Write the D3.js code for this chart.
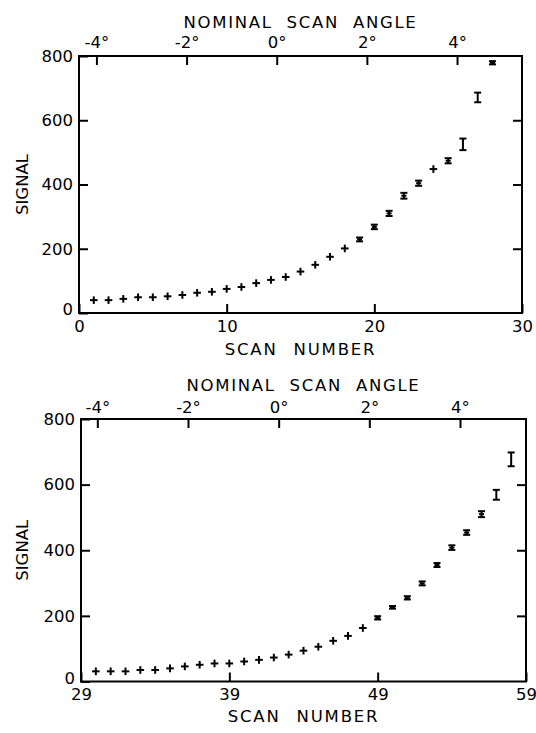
<!DOCTYPE html>
<html>
<head>
<meta charset="utf-8">
<script src="https://cdn.jsdelivr.net/npm/d3@7"></script>
<style>
  body { margin: 0; background: #fff; }
  svg text { font-family: "DejaVu Sans", sans-serif; fill: #000; }
</style>
</head>
<body>
<div id="chart"></div>
<script>
// tick values shared by both panels
const signalTicks = [0, 200, 400, 600, 800];
const angleTicks = [-4, -2, 0, 2, 4];

// upper panel: scans 1-28
const topScanTicks = [0, 10, 20, 30];
const topScans = [1, 2, 3, 4, 5, 6, 7, 8, 9, 10, 11, 12, 13, 14, 15, 16, 17, 18, 19, 20, 21, 22, 23, 24, 25, 26, 27, 28];
const topSignal = [40, 40, 44, 49, 49, 52, 56, 63, 66, 75, 81, 93, 103, 112, 129, 150, 175, 201, 229, 268, 310, 365, 404, 448, 474, 525, 671, 779];
const topErr = [0, 0, 0, 0, 0, 0, 0, 0, 0, 0, 0, 0, 0, 0, 0, 0, 0, 0, 6, 7, 8, 9, 8, 0, 8, 18, 15, 5];
// scan number where -4 deg and +4 deg fall
const topAngleScan = [1.18, 25.6];

// lower panel: scans 30-58
const bottomScanTicks = [29, 39, 49, 59];
const bottomScans = [30, 31, 32, 33, 34, 35, 36, 37, 38, 39, 40, 41, 42, 43, 44, 45, 46, 47, 48, 49, 50, 51, 52, 53, 54, 55, 56, 57, 58];
const bottomSignal = [31, 31, 31, 35, 35, 40, 46, 51, 55, 55, 61, 66, 73, 82, 94, 106, 124, 139, 163, 194, 226, 255, 299, 355, 408, 454, 510, 569, 677];
const bottomErr = [0, 0, 0, 0, 0, 0, 0, 0, 0, 0, 0, 0, 0, 0, 0, 0, 0, 0, 0, 5, 4, 5, 6, 6, 7, 7, 9, 15, 21];
const bottomAngleScan = [30.1, 54.55];

const svg = d3.select("#chart")
    .append("svg")
    .attr("width", 536)
    .attr("height", 733);

const FONT = 16.5;

function styleAxis(g) {
    g.attr("font-size", FONT).attr("font-family", "DejaVu Sans, sans-serif");
    g.select(".domain").remove();
    g.selectAll(".tick line").attr("stroke-width", 2);
}

function drawPanel(p) {
    const x = d3.scaleLinear().domain(p.scanDomain).range([p.left, p.right]);
    const y = d3.scaleLinear().domain([0, 800]).range([p.bottom, p.top]);
    const angle = d3.scaleLinear().domain([-4, 4]).range(p.angleScan.map(x));
    const g = svg.append("g");

    g.append("g")
        .attr("transform", `translate(${p.left},0)`)
        .call(d3.axisLeft(y).tickValues(signalTicks).tickSize(-9).tickSizeOuter(0).tickPadding(6))
        .call(styleAxis)
        .call(a => a.selectAll(".tick text").filter(d => d === 0).attr("dy", "0.1em"));

    g.append("g")
        .attr("transform", `translate(${p.right},0)`)
        .call(d3.axisRight(y).tickValues([200, 400, 600]).tickSize(-9).tickSizeOuter(0).tickFormat(""))
        .call(styleAxis);

    g.append("g")
        .attr("transform", `translate(0,${p.bottom})`)
        .call(d3.axisBottom(x).tickValues(p.scanTicks).tickSize(-9).tickSizeOuter(0).tickPadding(7))
        .call(styleAxis);

    g.append("g")
        .attr("transform", `translate(0,${p.top})`)
        .call(d3.axisTop(angle).tickValues(angleTicks).tickSize(-9).tickSizeOuter(0)
            .tickPadding(p.anglePad).tickFormat(d => d + "°"))
        .call(styleAxis);

    g.append("rect")
        .attr("x", p.left)
        .attr("y", p.top)
        .attr("width", p.right - p.left)
        .attr("height", p.bottom - p.top)
        .attr("fill", "none")
        .attr("stroke", "#000")
        .attr("stroke-width", 2);

    // points: plus marks, or error bars with caps where the error is visible
    const pts = p.scans.map((s, i) => ({ scan: s, v: p.signal[i], e: p.err[i] }));
    const mark = g.selectAll("g.pt")
        .data(pts)
        .enter()
        .append("g")
        .attr("class", "pt")
        .attr("stroke", "#000")
        .attr("stroke-width", 2);

    mark.each(function (d) {
        const m = d3.select(this);
        const cx = x(d.scan);
        if (!d.e) {
            m.append("line").attr("x1", cx - 3.8).attr("x2", cx + 3.8).attr("y1", y(d.v)).attr("y2", y(d.v));
            m.append("line").attr("x1", cx).attr("x2", cx).attr("y1", y(d.v) - 3.8).attr("y2", y(d.v) + 3.8);
            return;
        }
        const y0 = y(d.v - d.e), y1 = y(d.v + d.e);
        m.append("line").attr("x1", cx).attr("x2", cx).attr("y1", y0).attr("y2", y1);
        [y0, y1].forEach(yy => {
            m.append("line").attr("x1", cx - 3.5).attr("x2", cx + 3.5).attr("y1", yy).attr("y2", yy);
        });
        if (y0 - y1 < 8) {
            m.append("line").attr("x1", cx - 2.5).attr("x2", cx + 2.5).attr("y1", y(d.v)).attr("y2", y(d.v));
        }
    });

    const midX = (p.left + p.right) / 2;

    g.append("text")
        .attr("x", midX)
        .attr("y", p.top - 28.5)
        .attr("text-anchor", "middle")
        .style("font-size", FONT + "px")
        .style("letter-spacing", "1.7px")
        .style("word-spacing", "7px")
        .text("NOMINAL SCAN ANGLE");

    g.append("text")
        .attr("x", midX)
        .attr("y", p.bottom + p.xTitlePad)
        .attr("text-anchor", "middle")
        .style("font-size", FONT + "px")
        .style("letter-spacing", "1.8px")
        .style("word-spacing", "9px")
        .text("SCAN NUMBER");

    g.append("text")
        .attr("transform", `translate(28,${(p.top + p.bottom) / 2}) rotate(-90)`)
        .attr("text-anchor", "middle")
        .style("font-size", FONT + "px")
        .text("SIGNAL");
}

drawPanel({
    left: 79, right: 522, top: 56, bottom: 313,
    scanDomain: [0, 30], scanTicks: topScanTicks, angleScan: topAngleScan,
    anglePad: 8, xTitlePad: 42,
    scans: topScans, signal: topSignal, err: topErr
});

drawPanel({
    left: 81, right: 526, top: 419, bottom: 681.5,
    scanDomain: [29, 59], scanTicks: bottomScanTicks, angleScan: bottomAngleScan,
    anglePad: 6, xTitlePad: 40,
    scans: bottomScans, signal: bottomSignal, err: bottomErr
});
</script>
</body>
</html>
